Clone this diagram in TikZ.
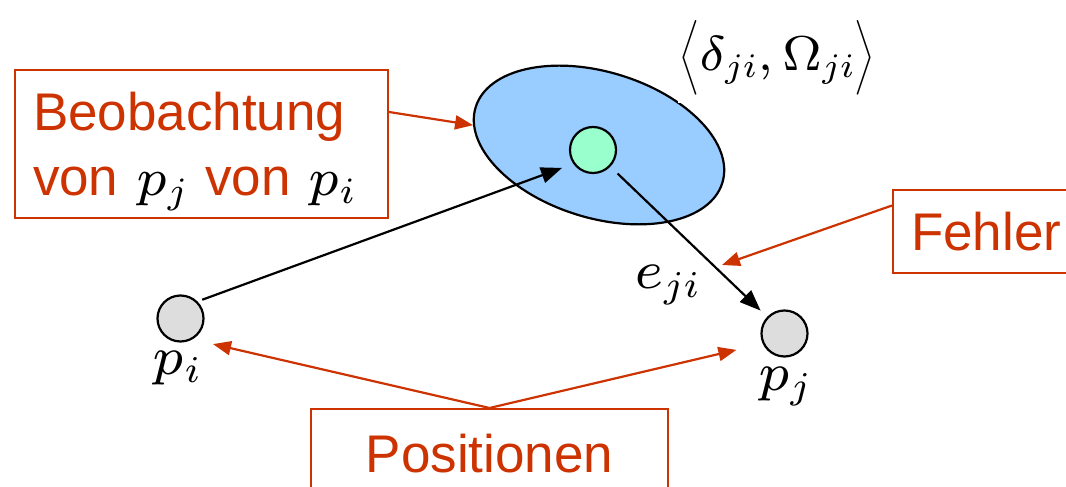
\RequirePackage{fix-cm}
\documentclass[tikz,border=0pt]{standalone}
\usepackage{amsmath}
\usepackage[no-math]{fontspec}
\setmainfont{Liberation Sans}
\usepackage{xcolor}
\usepackage{tikz}
\usetikzlibrary{positioning, arrows.meta, shapes.geometric}
% small design sizes for the big math, as in the original figure
\DeclareFontShape{OML}{cmm}{m}{it}{<-> cmmi7}{}
\DeclareFontShape{OT1}{cmr}{m}{n}{<-> cmr7}{}
\definecolor{notered}{HTML}{CC3300}
\definecolor{ellblue}{HTML}{99CCFF}
\definecolor{measgreen}{HTML}{99FFCC}
\definecolor{posgray}{HTML}{DDDDDD}

\begin{document}
\begin{tikzpicture}[x=1pt, y=1pt,
    notebox/.style={draw=notered, line width=2pt, text=notered,
                    font=\fontsize{53}{65}\selectfont},
    posnode/.style={circle, draw, line width=2.2pt, fill=posgray,
                    minimum size=46pt, inner sep=0pt},
    mathlabel/.style={font=\fontsize{54}{60}\selectfont, inner sep=0pt},
    obsarrow/.style={line width=2.2pt, -{Triangle[length=21pt, width=16pt]}},
    notearrow/.style={notered, line width=2.2pt, -{Triangle[length=18pt, width=14pt]}}]
  \useasboundingbox (0,0) rectangle (1066,487);
  \clip (0,0) rectangle (1066,487);

  % observation with its uncertainty
  \node[ellipse, draw, line width=2.2pt, fill=ellblue, minimum width=258pt,
        minimum height=146pt, rotate=-17] (obs) at (599,342) {};
  \node[fill=white, inner sep=1pt, font=\fontsize{49}{58}\selectfont]
    (cov) at (777,429) {$\Bigl\langle \delta_{ji}, \Omega_{ji} \Bigr\rangle$};
  \node[circle, draw, line width=2.2pt, fill=measgreen, minimum size=46pt,
        inner sep=0pt] (zji) at (593,337) {};

  % positions
  \node[posnode] (pi) at (180.5,168.5) {};
  \node[posnode] (pj) at (784.5,153.5) {};
  \node[mathlabel, below=8pt of pi, xshift=-4pt] (lpi) {$p_i$};
  \node[mathlabel, below=9pt of pj] (lpj) {$p_j$};
  \node[mathlabel, anchor=base] (eji) at (667,198) {$e_{ji}$};

  \draw[obsarrow, shorten <=5pt, shorten >=12pt] (pi.45) -- (zji.215);
  \draw[obsarrow, shorten <=10pt, shorten >=9pt] (zji) -- (pj);

  % annotation boxes
  \node[notebox, minimum width=373pt, minimum height=148pt, text width=337pt,
        inner xsep=18pt, align=left] (beob) at (201.5,343)
    {\rule{0pt}{54pt}Beobachtung\\von \textcolor{black}{$p_j$} von \textcolor{black}{$p_i$}};
  \node[notebox, anchor=west, minimum height=83pt, text width=200pt,
        inner xsep=18pt, align=left] (fehler) at (892,255.5) {Fehler};
  \node[notebox, anchor=north, minimum width=357pt, inner ysep=25pt]
    (pos) at (489.5,79) {Positionen};
  \coordinate (errtip) at (722,222);

  \draw[notearrow] ([yshift=32pt]beob.east) -- (obs);
  \draw[notearrow] ([yshift=26pt]fehler.west) -- (errtip);
  \draw[notearrow, shorten >=21pt] (pos.north) -- (pi.-60);
  \draw[notearrow, shorten >=27pt] (pos.north) -- (pj.205);
\end{tikzpicture}
\end{document}
